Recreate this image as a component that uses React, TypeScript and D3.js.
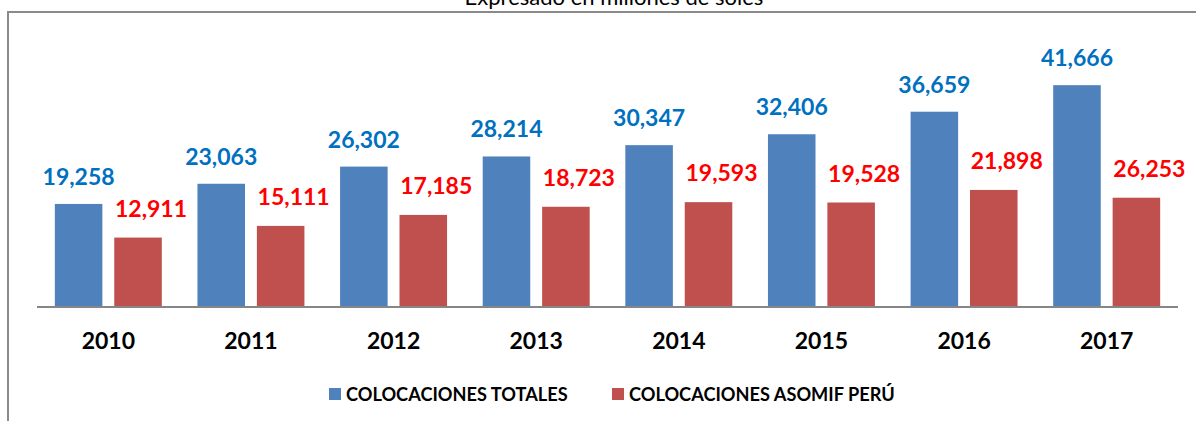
import React from "react";
import * as d3 from "d3";

const years = ["2010", "2011", "2012", "2013", "2014", "2015", "2016", "2017"];
// bar heights as drawn in the picture
const colocacionesTotales = [19258, 23063, 26302, 28214, 30347, 32406, 36659, 41666];
const colocacionesAsomif = [12911, 15111, 17185, 18723, 19593, 19528, 21898, 20430];
// data-label texts as printed in the picture
const totalesLabels = ["19,258", "23,063", "26,302", "28,214", "30,347", "32,406", "36,659", "41,666"];
const asomifLabels = ["12,911", "15,111", "17,185", "18,723", "19,593", "19,528", "21,898", "26,253"];
const seriesNames = ["COLOCACIONES TOTALES", "COLOCACIONES ASOMIF PERÚ"];
const subtitle = "Expresado en millones de soles";

const W = 1196;
const H = 421;
const BAR_COLORS = ["#4F81BD", "#C0504D"];
const LABEL_COLORS = ["#0070C0", "#FF0000"];
const FONT = "Lato, 'Open Sans', sans-serif";

export default function App() {
  const x = d3.scaleBand<string>().domain(years).range([37, 1178]).padding(0);
  const xs = d3
    .scaleBand<string>()
    .domain(seriesNames)
    .range([0, x.bandwidth()])
    .paddingInner(0.2)
    .paddingOuter(0.3);
  const y = d3.scaleLinear().domain([0, 45000]).range([306, 67.5]);
  const series = [colocacionesTotales, colocacionesAsomif];
  const labels = [totalesLabels, asomifLabels];
  const labelDx = [0, 13];
  const labelGap = [19, 21];

  return (
    <>
      <style>{`body{margin:0}`}</style>
      <svg width={W} height={H} style={{ display: "block", background: "#fff" }}>
        <text
          x={614}
          y={5}
          textAnchor="middle"
          fontFamily={FONT}
          fontSize={22}
          fill="#000"
        >
          {subtitle}
        </text>
        {/* frame */}
        <line x1={7} y1={12} x2={W} y2={12} stroke="#8a8a8a" strokeWidth={2} />
        <line x1={8} y1={11} x2={8} y2={H} stroke="#8a8a8a" strokeWidth={2} />

        {series.map((vals, si) => (
          <g key={si}>
            {vals.map((v, i) => {
              const bx = (x(years[i]) ?? 0) + (xs(seriesNames[si]) ?? 0);
              const bw = xs.bandwidth();
              const top = y(v);
              return (
                <g key={i}>
                  <rect
                    x={bx}
                    y={top}
                    width={bw}
                    height={y(0) - top}
                    fill={BAR_COLORS[si]}
                  />
                  <text
                    x={bx + bw / 2 + labelDx[si]}
                    y={top - labelGap[si]}
                    textAnchor="middle"
                    fontFamily={FONT}
                    fontWeight={700}
                    fontSize={23}
                    fill={LABEL_COLORS[si]}
                  >
                    {labels[si][i]}
                  </text>
                </g>
              );
            })}
          </g>
        ))}

        {/* axis baseline */}
        <line
          x1={x.range()[0]}
          y1={y(0) + 1}
          x2={x.range()[1]}
          y2={y(0) + 1}
          stroke="#868686"
          strokeWidth={2}
        />
        {years.map((yr) => (
          <text
            key={yr}
            x={(x(yr) ?? 0) + x.bandwidth() / 2}
            y={349}
            textAnchor="middle"
            fontFamily={FONT}
            fontWeight={700}
            fontSize={23}
            fill="#000"
          >
            {yr}
          </text>
        ))}

        {/* legend */}
        {seriesNames.map((name, si) => {
          const lx = si === 0 ? 329 : 612;
          return (
            <g key={name}>
              <rect x={lx} y={388} width={12} height={12} fill={BAR_COLORS[si]} />
              <text
                x={lx + 17}
                y={401}
                fontFamily={FONT}
                fontWeight={700}
                fontSize={18.2}
                fill="#000"
              >
                {name}
              </text>
            </g>
          );
        })}
      </svg>
    </>
  );
}
